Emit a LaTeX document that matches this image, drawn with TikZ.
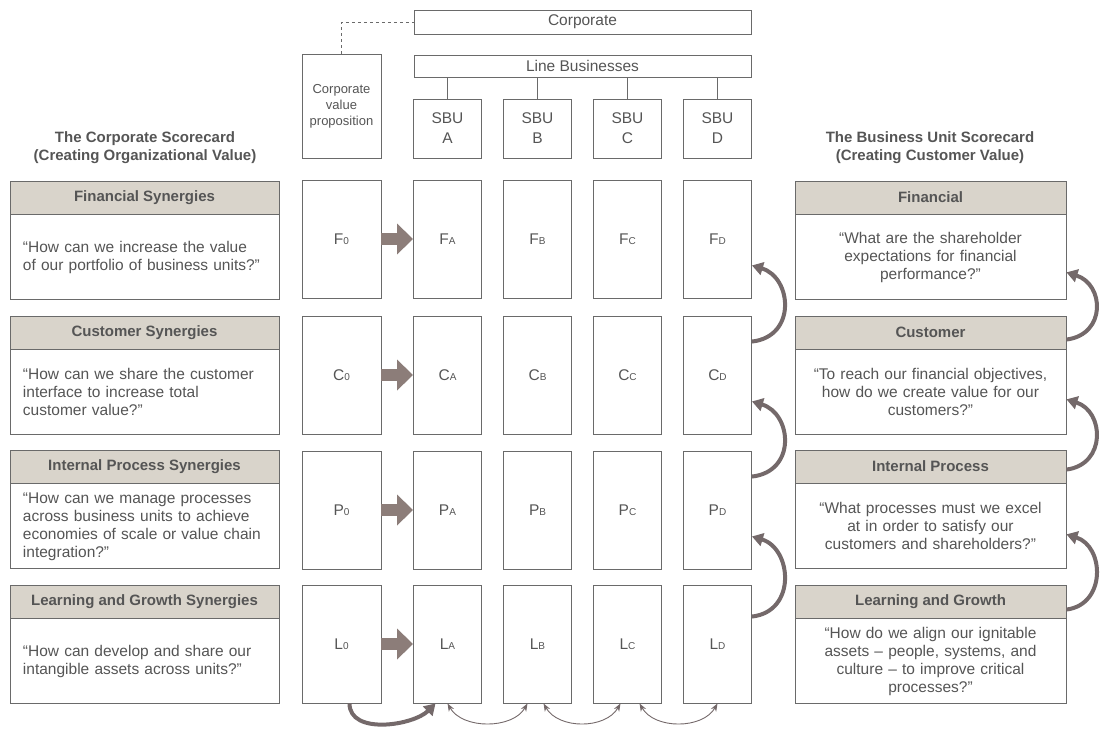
\documentclass[tikz,border=0pt]{standalone}
\usepackage{fontspec}
\setmainfont{Liberation Sans}
\usetikzlibrary{positioning, arrows.meta}

\definecolor{boxline}{HTML}{6A6A6A}
\definecolor{boxtext}{HTML}{555555}
\definecolor{hdrfill}{HTML}{D9D4CB}
\definecolor{arrowfill}{HTML}{8C7D79}
\definecolor{curvecol}{HTML}{74696A}

\newcommand{\lsub}[1]{{\fontsize{10}{10}\selectfont #1}}

\begin{document}
\begin{tikzpicture}[x=1pt, y=-1pt,
    every node/.style={text=boxtext, font=\fontsize{15.5}{18}\selectfont},
    box/.style={draw=boxline, line width=0.9pt, fill=white, inner sep=0pt},
    cell/.style={box, minimum width=68pt, minimum height=118pt},
    hdr/.style={box, fill=hdrfill, minimum height=33pt, font=\fontsize{15}{18}\selectfont\bfseries},
    lbody/.style={box, minimum width=269pt, text width=243pt, inner xsep=13pt, align=left},
    rbody/.style={box, minimum width=271pt, text width=245pt, inner xsep=13pt, align=center},
    curv/.style={draw=curvecol, line width=4pt, -{Triangle[width=13pt, length=11pt]}},
    thin/.style={draw=curvecol, line width=0.9pt, {Stealth[length=8pt, width=6pt]}-{Stealth[length=8pt, width=6pt]}}]

  \useasboundingbox (0,0) rectangle (1101,731);

  % top of the structure
  \node[box, minimum width=337pt, minimum height=24pt] (corp) at (582.5,22) {Corporate};
  \node[box, minimum width=337pt, minimum height=22pt] (lb) at (582.5,66) {Line Businesses};
  \node[box, minimum width=79pt, minimum height=104pt, align=center,
        font=\fontsize{13}{16}\selectfont] (cvp) at (341.5,106) {Corporate\\value\\proposition};
  \draw[boxline, line width=0.9pt, dashed] (cvp.north) |- (corp.west);

  \foreach \c/\xc in {A/447.5, B/537.5, C/627.5, D/717.5} {
    \node[box, minimum width=68pt, minimum height=59pt, align=center,
          font=\fontsize{15.5}{20}\selectfont] (sbu\c) at (\xc,128.5) {SBU\\\c};
    \draw[boxline, line width=0.9pt] (sbu\c.north) -- (sbu\c.north |- lb.south);
  }

  % grid of measures
  \foreach \r/\yc in {F/239, C/375, P/510, L/644} {
    \node[cell, minimum width=79pt] (\r0) at (341.5,\yc) {\r\lsub{0}};
    \foreach \c/\xc in {A/447.5, B/537.5, C/627.5, D/717.5}
      \node[cell] (\r\c) at (\xc,\yc) {\r\lsub{\c}};
    \draw[arrowfill, line width=12pt, -{Triangle[width=30pt, length=16pt]}] (\r0) -- (\r A);
  }

  % titles
  \node[align=center, font=\fontsize{15}{18}\selectfont\bfseries] (ltitle) at (145,148)
    {The Corporate Scorecard\\(Creating Organizational Value)};
  \node[align=center, font=\fontsize{15}{18}\selectfont\bfseries] (rtitle) at (930,148)
    {The Business Unit Scorecard\\(Creating Customer Value)};

  % corporate scorecard
  \node[hdr, minimum width=269pt] (lfin) at (144.5,197.5) {Financial Synergies};
  \node[lbody, minimum height=85pt, below=0pt of lfin] (lfinb)
    {“How can we increase the value\\of our portfolio of business units?”};
  \node[hdr, minimum width=269pt] (lcus) at (144.5,332.5) {Customer Synergies};
  \node[lbody, minimum height=85pt, below=0pt of lcus] (lcusb)
    {“How can we share the customer\\interface to increase total\\customer value?”};
  \node[hdr, minimum width=269pt] (lint) at (144.5,466.5) {Internal Process Synergies};
  \node[lbody, minimum height=85pt, below=0pt of lint] (lintb)
    {“How can we manage processes\\across business units to achieve\\economies of scale or value chain\\integration?”};
  \node[hdr, minimum width=269pt] (llea) at (144.5,601.5) {Learning and Growth Synergies};
  \node[lbody, minimum height=85pt, below=0pt of llea] (lleab)
    {“How can develop and share our\\intangible assets across units?”};

  % business unit scorecard
  \node[hdr, minimum width=271pt] (rfin) at (930.5,197.5) {Financial};
  \node[rbody, minimum height=85pt, below=0pt of rfin] (rfinb)
    {“What are the shareholder\\expectations for financial\\performance?”};
  \node[hdr, minimum width=271pt] (rcus) at (930.5,332.5) {Customer};
  \node[rbody, minimum height=85pt, below=0pt of rcus] (rcusb)
    {“To reach our financial objectives,\\how do we create value for our\\customers?”};
  \node[hdr, minimum width=271pt] (rint) at (930.5,466.5) {Internal Process};
  \node[rbody, minimum height=85pt, below=0pt of rint] (rintb)
    {“What processes must we excel\\at in order to satisfy our\\customers and shareholders?”};
  \node[hdr, minimum width=271pt] (rlea) at (930.5,601.5) {Learning and Growth};
  \node[rbody, minimum height=85pt, below=0pt of rlea] (rleab)
    {“How do we align our ignitable\\assets – people, systems, and\\culture – to improve critical\\processes?”};

  % curved arrows up the D column
  \draw[curv] ([yshift=-26pt]CD.north east) .. controls +(45,-5) and +(40,12) .. ([yshift=33pt]FD.south east);
  \draw[curv] ([yshift=-26pt]PD.north east) .. controls +(45,-5) and +(40,12) .. ([yshift=33pt]CD.south east);
  \draw[curv] ([yshift=-32pt]LD.north east) .. controls +(45,-5) and +(40,12) .. ([yshift=33pt]PD.south east);

  % curved arrows up the business unit scorecard
  \draw[curv] ([yshift=-24pt]rcus.north east) .. controls +(40,-5) and +(38,12) .. ([yshift=28pt]rfinb.south east);
  \draw[curv] ([yshift=-20pt]rint.north east) .. controls +(40,-5) and +(38,12) .. ([yshift=36pt]rcusb.south east);
  \draw[curv] ([yshift=-25pt]rlea.north east) .. controls +(40,-5) and +(38,12) .. ([yshift=35pt]rintb.south east);

  % arrows along the bottom
  \draw[curv] ([xshift=8pt]L0.south) .. controls +(0,32) and +(-22,22) .. ([xshift=-12pt]LA.south);
  \draw[thin] (LA.south) .. controls +(15,26) and +(-15,26) .. ([xshift=-10pt]LB.south);
  \draw[thin] ([xshift=6pt]LB.south) .. controls +(15,26) and +(-15,26) .. ([xshift=-7pt]LC.south);
  \draw[thin] ([xshift=12pt]LC.south) .. controls +(15,26) and +(-15,26) .. (LD.south);
\end{tikzpicture}
\end{document}
